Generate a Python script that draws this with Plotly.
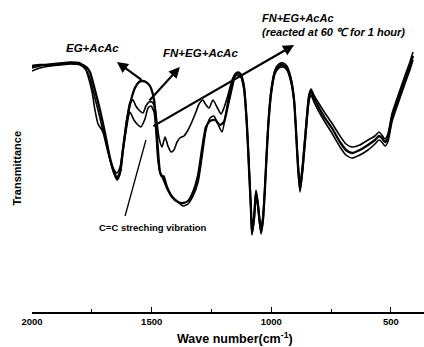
import plotly.graph_objects as go

# ---- data (wave number cm^-1, transmittance a.u.) ----
wn_eg = [2000,1967,1925,1883,1841,1799,1774,1758,1737,1716,1695,1674,1657,1645,1632,1620,1603,1586,1570,1553,1540,1524,1507,1490,1478,1465,1453,1436,1415,1390,1369,1348,1327,1306,1290,1273,1256,1235,1215,1198,1181,1164,1152,1139,1127,1114,1102,1093,1085,1081,1072,1064,1056,1043,1035,1027,1014,1001,985,968,951,935,918,905,897,889,880,868,855,843,834,822,805,776,747,713,688,663,630,596,567,550,538,525,513,496,471,442,421,408]
t_eg = [246,247,247,248,249,248,245,240,222,202,179,154,140,134,140,162,192,212,224,230,231,230,226,212,177,140,134,124,115,110,109,111,120,137,162,185,191,192,187,190,207,225,236,239,236,224,187,142,102,79,94,120,107,80,92,122,182,219,240,246,247,244,232,212,182,147,122,147,184,214,221,214,206,194,184,170,162,159,162,167,172,176,174,170,174,194,212,232,246,256]

wn_fn = [2000,1967,1925,1883,1841,1799,1774,1758,1737,1716,1695,1674,1657,1645,1632,1620,1603,1591,1578,1566,1553,1536,1524,1511,1499,1486,1478,1469,1457,1444,1432,1419,1407,1394,1382,1365,1348,1332,1315,1302,1286,1273,1260,1244,1227,1210,1198,1181,1164,1152,1139,1127,1114,1102,1093,1085,1081,1072,1064,1056,1043,1035,1027,1014,1001,985,968,951,935,918,905,897,889,880,868,855,843,834,822,805,776,747,713,688,663,630,596,567,550,538,525,513,496,471,442,421,408]
t_fn = [241,244,246,247,248,247,242,234,214,194,172,152,142,139,145,165,194,209,212,206,202,199,206,210,210,204,190,174,165,175,166,160,162,170,174,176,182,190,200,208,212,207,204,212,205,198,204,217,232,238,240,238,227,190,147,107,84,98,122,110,84,96,126,186,222,242,248,249,246,234,214,184,152,128,152,188,217,223,217,210,199,189,176,168,165,167,172,176,180,177,173,178,198,216,236,250,260]

wn_re = [2000,1967,1925,1883,1841,1799,1778,1766,1749,1737,1724,1708,1691,1674,1657,1645,1632,1620,1603,1591,1574,1561,1545,1528,1515,1503,1490,1482,1474,1461,1449,1436,1415,1390,1369,1348,1327,1306,1290,1273,1256,1240,1223,1206,1189,1173,1156,1144,1127,1114,1102,1093,1085,1081,1072,1064,1056,1043,1035,1027,1014,1001,985,968,951,935,918,905,897,889,880,868,855,843,834,822,805,776,747,713,688,663,630,596,567,550,538,525,513,496,471,442,421,408]
t_re = [244,246,248,249,250,249,244,236,220,202,188,182,172,152,138,132,138,160,187,200,192,188,185,193,204,206,200,180,152,136,136,126,116,110,106,108,116,130,154,182,194,196,188,180,200,222,234,237,235,222,184,140,100,77,92,118,105,78,90,120,180,217,238,244,245,242,230,210,180,146,120,144,180,210,217,210,202,190,179,165,157,154,157,162,168,172,170,166,170,190,208,228,242,252]

tick_vals = [2000, 1500, 1000, 500]
tick_text = ["<b>2000</b>", "<b>1500</b>", "<b>1000</b>", "<b>500</b>"]

FONT = "Liberation Sans, Arial, sans-serif"

fig = go.Figure()
for wn, t, w in [(wn_fn, t_fn, 1.6), (wn_re, t_re, 1.6), (wn_eg, t_eg, 2.3)]:
    fig.add_trace(go.Scatter(x=wn, y=t, mode="lines",
                             line=dict(color="black", width=w, shape="spline", smoothing=0.6),
                             showlegend=False, hoverinfo="skip"))

fig.update_layout(
    width=424, height=347,
    margin=dict(l=32, r=0, t=0, b=35),
    paper_bgcolor="white", plot_bgcolor="white",
    font=dict(family=FONT, color="black"),
    xaxis=dict(range=[2000, 362], showline=True, linecolor="black", linewidth=1.5,
               ticks="inside", ticklen=5, tickwidth=1.2, tickcolor="black",
               tickvals=tick_vals, ticktext=tick_text,
               tickfont=dict(size=9.5, family=FONT, color="black"),
               minor=dict(ticks="inside", ticklen=3, tickcolor="black", dtick=250, tick0=0),
               showgrid=False, zeroline=False),
    yaxis=dict(range=[0, 312], visible=False, showgrid=False, zeroline=False),
)

# axis titles
fig.add_annotation(x=0.518, y=-0.083, xref="paper", yref="paper", showarrow=False,
                   text="<b>Wave number(cm<sup>-1</sup>)</b>", font=dict(size=12.5, family=FONT),
                   xanchor="center", yanchor="middle")
fig.add_annotation(x=-0.038, y=0.46, xref="paper", yref="paper", showarrow=False,
                   text="<b>Transmittance</b>", textangle=-90, font=dict(size=11, family=FONT),
                   xanchor="center", yanchor="middle")

# labels
fig.add_annotation(x=1749, y=264, showarrow=False, text="<b><i>EG+AcAc</i></b>",
                   font=dict(size=11.5, family=FONT))
fig.add_annotation(x=1294, y=259, showarrow=False, text="<b><i>FN+EG+AcAc</i></b>",
                   font=dict(size=11.5, family=FONT))
fig.add_annotation(x=1047, y=287, showarrow=False, xanchor="left", align="left",
                   text="<b><i>FN+EG+AcAc<br>(reacted at 60 \u2103 for 1 hour)</i></b>",
                   font=dict(size=11, family=FONT))
fig.add_annotation(x=1494, y=85, showarrow=False, text="<b>C=C streching vibration</b>",
                   font=dict(size=9.5, family=FONT))

# arrows
for (hx, hy, tx, ty) in [(1645, 250, 1536, 231), (1382, 245, 1515, 210), (905, 267, 1499, 185)]:
    fig.add_annotation(x=hx, y=hy, ax=tx, ay=ty, xref="x", yref="y", axref="x", ayref="y",
                       text="", showarrow=True, arrowhead=2, arrowsize=1.0, arrowwidth=2.2,
                       arrowcolor="black")
fig.add_shape(type="line", x0=1611, y0=96, x1=1524, y1=172, xref="x", yref="y",
              line=dict(color="black", width=1.3))

fig.write_html("out.html")
